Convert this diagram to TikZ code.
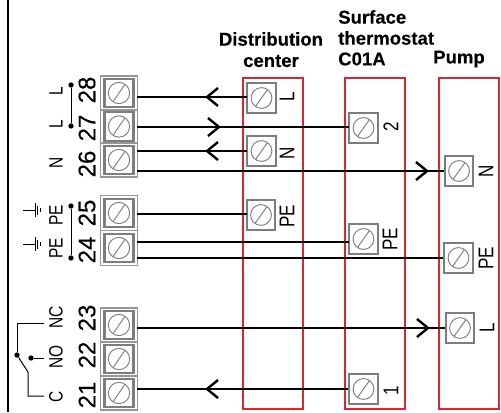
\documentclass[tikz,border=0pt]{standalone}
\usepackage{fontspec}
\setmainfont{Liberation Sans}
\newfontfamily\numfont[FakeBold=0.25]{Liberation Sans}
\newfontfamily\sidefont[FakeStretch=0.8]{Liberation Sans}
\newfontfamily\headfont[FakeBold=0.15]{Liberation Sans Bold}
\usetikzlibrary{calc}
\definecolor{boxred}{RGB}{218,38,50}
\definecolor{termgray}{RGB}{125,125,125}
\definecolor{framegray}{RGB}{150,150,150}
\newcommand{\barbright}[1]{\draw[barb] ($(#1)+(-11,-9)$) -- (#1) -- ($(#1)+(-11,9)$);}
\newcommand{\barbleft}[1]{\draw[barb] ($(#1)+(11,-9)$) -- (#1) -- ($(#1)+(11,9)$);}
\tikzset{
  px/.style={x=0.75pt,y=-0.75pt},
  housing/.style={draw=boxred,line width=1.5pt,minimum width=45pt,inner sep=0pt,anchor=north west},
  screw/.style={draw=termgray,line width=0.7pt},
  smallterm/.style={draw=termgray,fill=white,line width=1.6pt,minimum width=21.6pt,minimum height=22pt,inner sep=0pt,
    path picture={
      \draw[screw] (path picture bounding box.center) circle[radius=7.8pt];
      \draw[screw] ($(path picture bounding box.center)+(-4.4pt,-6.2pt)$) -- ($(path picture bounding box.center)+(4.4pt,6.2pt)$);
    }},
  bigterm/.style={draw=framegray,fill=white,line width=1.2pt,minimum width=27.5pt,inner sep=0pt,
    path picture={
      \draw[draw=termgray,line width=1.6pt] ($(path picture bounding box.center)+(-10.9pt,-10.6pt)$) rectangle ($(path picture bounding box.center)+(10.9pt,10.6pt)$);
      \draw[screw] (path picture bounding box.center) circle[radius=8pt];
      \draw[screw] ($(path picture bounding box.center)+(-4.4pt,-6.4pt)$) -- ($(path picture bounding box.center)+(4.4pt,6.4pt)$);
    }},
  wire/.style={draw=black,line width=1.4pt},
  barb/.style={draw=black,line width=1.8pt,miter limit=10},
  thin wire/.style={draw=black,line width=0.75pt},
  numlabel/.style={rotate=90,inner sep=0pt,font=\numfont\fontsize{18}{18}\selectfont},
  sidelabel/.style={rotate=90,inner sep=0pt,font=\sidefont\fontsize{14.5}{14.5}\selectfont},
  termlabel/.style={rotate=90,inner sep=0pt,font=\sidefont\fontsize{16}{16}\selectfont},
  heading/.style={inner sep=0pt,font=\headfont\fontsize{13.9}{14}\selectfont},
  dot/.style={circle,fill=black,inner sep=0pt,minimum size=4pt},
  ground/.style={draw=black,line width=0.6pt},
}
\begin{document}
\begin{tikzpicture}[px]
\useasboundingbox (0,0) rectangle (501,412);
\draw[line width=1.5pt] (7.5,0) -- (7.5,412);

% housings
\node[housing,minimum height=248pt] (dist) at (242,77) {};
\node[housing,minimum height=248pt] (therm) at (344,77) {};
\node[housing,minimum height=248pt] (pump) at (438,77) {};

% headings
\node[heading] (hd1) at (271,39) {Distribution};
\node[heading] (hd2) at (271,61) {center};
\node[heading,anchor=west] (hs1) at (338,17) {Surface};
\node[heading,anchor=west] (hs2) at (338,38) {thermostat};
\node[heading,anchor=west] (hs3) at (338,59) {C01A};
\node[heading,anchor=west] (hp) at (433,59) {Pump};

% terminal blocks
\node[bigterm,minimum height=25.2pt] (t28) at (119,93) {};
\node[bigterm,minimum height=25.2pt] (t27) at (119,126.5) {};
\node[bigterm,minimum height=25.2pt] (t26) at (119,160) {};
\node[bigterm,minimum height=26pt] (t25) at (119,213) {};
\node[bigterm,minimum height=26pt] (t24) at (119,248) {};
\node[bigterm,minimum height=25.5pt] (t23) at (119,325) {};
\node[bigterm,minimum height=25.5pt] (t22) at (119,359) {};
\node[bigterm,minimum height=25.5pt] (t21) at (119,393) {};

% numbers
\node[numlabel] (n28) at (87,90) {28};
\node[numlabel] (n27) at (87,128) {27};
\node[numlabel] (n26) at (87,164) {26};
\node[numlabel] (n25) at (87,213) {25};
\node[numlabel] (n24) at (87,250) {24};
\node[numlabel] (n23) at (87,318) {23};
\node[numlabel] (n22) at (87,355) {22};
\node[numlabel] (n21) at (87,395) {21};

% side labels
\node[sidelabel] (l28) at (56,91) {L};
\node[sidelabel] (l27) at (56,124) {L};
\node[sidelabel] (l26) at (56,163) {N};
\node[sidelabel] (l25) at (56,215) {PE};
\node[sidelabel] (l24) at (56,248) {PE};
\node[sidelabel] (l23) at (56,317) {NC};
\node[sidelabel] (l22) at (56,357) {NO};
\node[sidelabel] (l21) at (56,397) {C};

% jumpers
\node[dot] (j28) at (71,85) {};
\node[dot] (j27) at (71,126) {};
\node[dot] (j25) at (71,206) {};
\node[dot] (j24) at (71,258) {};
\draw[thin wire] (j28) -- (j27);
\draw[thin wire] (j25) -- (j24);

% ground symbols
\coordinate (g1) at (35,210);
\coordinate (g2) at (35,244);
\foreach \g in {g1,g2}{
  \draw[ground] ($(\g)+(-12,0)$) -- (\g);
  \draw[ground] ($(\g)+(0,-7)$) -- ($(\g)+(0,7)$);
  \draw[ground] ($(\g)+(2.5,-4.5)$) -- ($(\g)+(2.5,4.5)$);
  \draw[ground] ($(\g)+(5,-2)$) -- ($(\g)+(5,2)$);
}

% relay contact
\coordinate (cnc) at (44,323);
\node[dot] (cpivot) at (17,355) {};
\node[dot] (cno) at (31,358) {};
\coordinate (cnoe) at (44,358);
\coordinate (ckink) at (28,372);
\coordinate (cc) at (44,396);
\draw[thin wire] (cnc) -| (cpivot);
\draw[thin wire] (cno) -- (cnoe);
\draw[thin wire] (cpivot) -- (ckink) |- (cc);

% small terminals
\node[smallterm] (dL) at (261.5,98) {};
\node[smallterm] (dN) at (261.5,151) {};
\node[smallterm] (dPE) at (261,215) {};
\node[smallterm] (th2) at (363.5,128) {};
\node[smallterm] (thPE) at (363.5,239) {};
\node[smallterm] (th1) at (363.5,389) {};
\node[smallterm] (pN) at (459,171) {};
\node[smallterm] (pPE) at (458.5,258) {};
\node[smallterm] (pL) at (460,328) {};

% terminal labels
\node[termlabel] (ldL) at (287,97) {L};
\node[termlabel] (ldN) at (287,153) {N};
\node[termlabel] (ldPE) at (287,216) {PE};
\node[termlabel] (lth2) at (391,127) {2};
\node[termlabel] (lthPE) at (390,239) {PE};
\node[termlabel] (lth1) at (391,391) {1};
\node[termlabel] (lpN) at (486,171) {N};
\node[termlabel] (lpPE) at (486,258) {PE};
\node[termlabel] (lpL) at (487,328) {L};

% wires
\coordinate (a28) at (207,97);
\coordinate (a27) at (219,127);
\coordinate (a26n) at (207,151);
\coordinate (a26p) at (427,171);
\coordinate (a23) at (428,328);
\coordinate (a21) at (207,389);
\coordinate (w28s) at (137,97);
\coordinate (w27s) at (137,127);
\coordinate (w26a) at (137,151);
\coordinate (w26b) at (137,171);
\coordinate (w25s) at (137,214);
\coordinate (w24a) at (137,242);
\coordinate (w24b) at (137,258);
\coordinate (w23s) at (137,328);
\coordinate (w21s) at (137,389);
\coordinate (wdL) at (247,97);
\coordinate (wth2) at (349,127);
\coordinate (wdN) at (247,151);
\coordinate (wdPE) at (247,214);
\coordinate (wthPE) at (349,242);

\draw[wire] (w28s) -- (wdL);
\barbleft{a28}
\draw[wire] (w27s) -- (wth2);
\barbright{a27}
\draw[wire] (w26a) -- (wdN);
\barbleft{a26n}
\draw[wire] (w26b) -- (pN.west);
\barbright{a26p}
\draw[wire] (w25s) -- (wdPE);
\draw[wire] (w24a) -- (wthPE);
\draw[wire] (w24b) -- (pPE.west);
\draw[wire] (w23s) -- (pL.west);
\barbright{a23}
\draw[wire] (w21s) -- (th1.west);
\barbleft{a21}
\end{tikzpicture}
\end{document}
